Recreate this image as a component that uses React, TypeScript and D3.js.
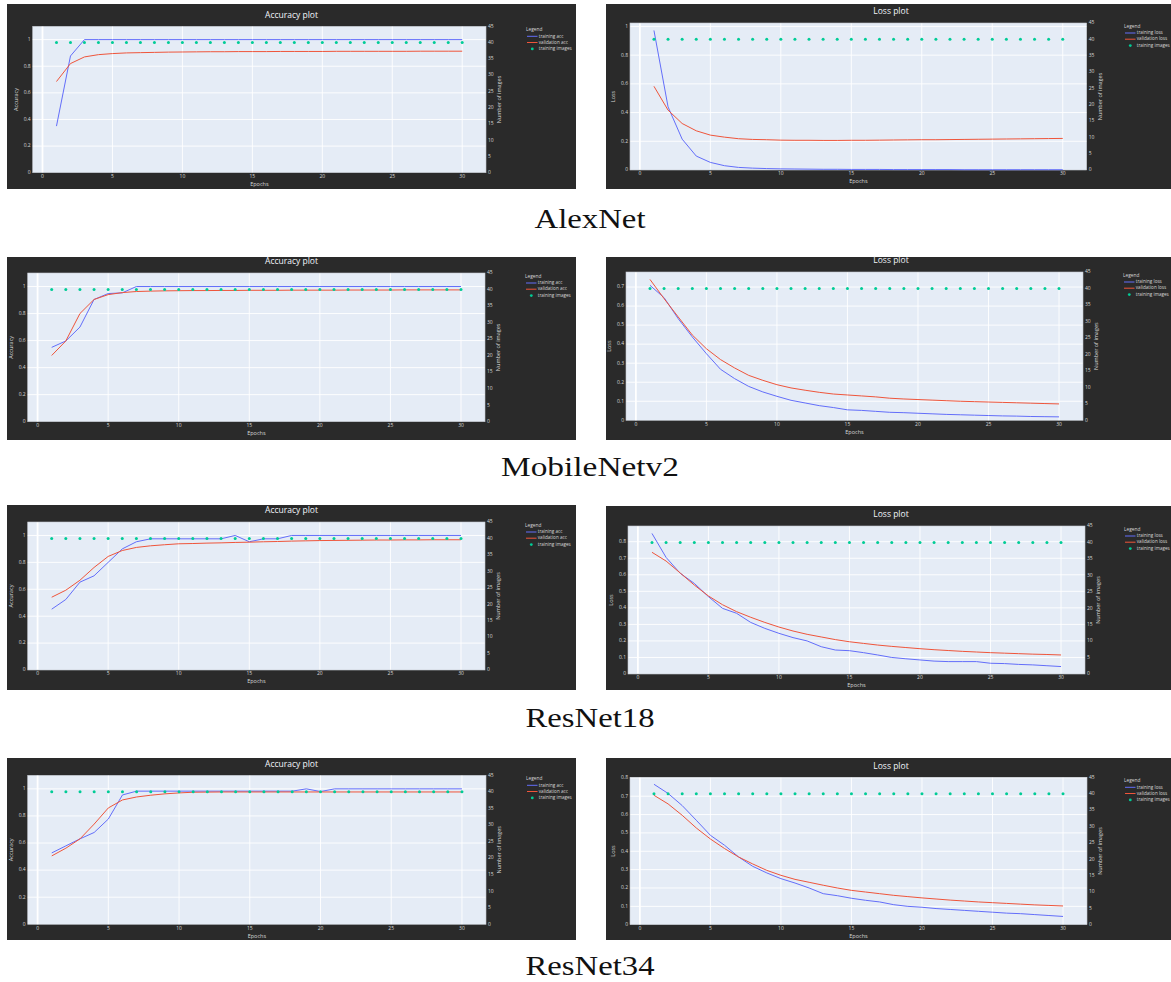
import React from "react";
import * as d3 from "d3";

// epochs and the constant training-image count
const epochs = [1, 2, 3, 4, 5, 6, 7, 8, 9, 10, 11, 12, 13, 14, 15, 16, 17, 18, 19, 20, 21, 22, 23, 24, 25, 26, 27, 28, 29, 30];
const trainingImages = [40, 40, 40, 40, 40, 40, 40, 40, 40, 40, 40, 40, 40, 40, 40, 40, 40, 40, 40, 40, 40, 40, 40, 40, 40, 40, 40, 40, 40, 40];

// AlexNet
const alexTrainAcc = [0.35, 0.877, 1, 1, 1, 1, 1, 1, 1, 1, 1, 1, 1, 1, 1, 1, 1, 1, 1, 1, 1, 1, 1, 1, 1, 1, 1, 1, 1, 1];
const alexValAcc = [0.685, 0.82, 0.87, 0.887, 0.895, 0.9, 0.902, 0.904, 0.906, 0.907, 0.908, 0.909, 0.909, 0.91, 0.91, 0.91, 0.911, 0.911, 0.911, 0.911, 0.912, 0.912, 0.912, 0.912, 0.912, 0.912, 0.913, 0.913, 0.913, 0.913];
const alexTrainLoss = [0.972, 0.44, 0.215, 0.097, 0.053, 0.03, 0.018, 0.013, 0.01, 0.008, 0.007, 0.006, 0.005, 0.005, 0.004, 0.004, 0.004, 0.003, 0.003, 0.003, 0.003, 0.003, 0.002, 0.002, 0.002, 0.002, 0.002, 0.002, 0.002, 0.002];
const alexValLoss = [0.583, 0.417, 0.324, 0.273, 0.243, 0.229, 0.218, 0.213, 0.211, 0.208, 0.207, 0.207, 0.206, 0.206, 0.207, 0.207, 0.208, 0.209, 0.21, 0.211, 0.211, 0.212, 0.213, 0.214, 0.215, 0.216, 0.217, 0.218, 0.219, 0.22];

// MobileNetv2
const mobileTrainAcc = [0.55, 0.597, 0.7, 0.904, 0.948, 0.953, 1, 1, 1, 1, 1, 1, 1, 1, 1, 1, 1, 1, 1, 1, 1, 1, 1, 1, 1, 1, 1, 1, 1, 1];
const mobileValAcc = [0.49, 0.597, 0.8, 0.904, 0.94, 0.955, 0.963, 0.966, 0.968, 0.969, 0.97, 0.97, 0.971, 0.971, 0.972, 0.972, 0.972, 0.973, 0.973, 0.973, 0.973, 0.974, 0.974, 0.974, 0.974, 0.975, 0.975, 0.975, 0.975, 0.975];
const mobileTrainLoss = [0.709, 0.644, 0.534, 0.438, 0.35, 0.268, 0.219, 0.178, 0.149, 0.126, 0.105, 0.091, 0.077, 0.067, 0.055, 0.052, 0.047, 0.042, 0.04, 0.037, 0.034, 0.031, 0.029, 0.027, 0.025, 0.023, 0.022, 0.02, 0.019, 0.018];
const mobileValLoss = [0.74, 0.639, 0.543, 0.448, 0.376, 0.319, 0.275, 0.236, 0.21, 0.187, 0.17, 0.158, 0.147, 0.138, 0.133, 0.128, 0.123, 0.116, 0.112, 0.109, 0.106, 0.103, 0.1, 0.098, 0.096, 0.094, 0.092, 0.09, 0.088, 0.086];

// ResNet18
const r18TrainAcc = [0.452, 0.524, 0.653, 0.7, 0.8, 0.9, 0.953, 0.975, 0.975, 0.975, 0.975, 0.975, 0.975, 1, 0.953, 0.975, 0.975, 1, 1, 1, 1, 1, 1, 1, 1, 1, 1, 1, 1, 1];
const r18ValAcc = [0.541, 0.593, 0.667, 0.762, 0.844, 0.888, 0.911, 0.923, 0.931, 0.938, 0.94, 0.943, 0.945, 0.948, 0.95, 0.953, 0.955, 0.958, 0.96, 0.962, 0.963, 0.964, 0.965, 0.966, 0.966, 0.967, 0.967, 0.968, 0.968, 0.968];
const r18TrainLoss = [0.85, 0.705, 0.609, 0.548, 0.468, 0.397, 0.367, 0.312, 0.276, 0.246, 0.22, 0.2, 0.165, 0.145, 0.141, 0.129, 0.115, 0.1, 0.092, 0.085, 0.078, 0.075, 0.075, 0.075, 0.065, 0.063, 0.058, 0.055, 0.05, 0.045];
const r18ValLoss = [0.736, 0.683, 0.611, 0.538, 0.472, 0.419, 0.377, 0.343, 0.312, 0.284, 0.26, 0.24, 0.224, 0.208, 0.195, 0.185, 0.175, 0.167, 0.16, 0.153, 0.147, 0.142, 0.137, 0.133, 0.129, 0.126, 0.123, 0.12, 0.118, 0.115];

// ResNet34
const r34TrainAcc = [0.527, 0.579, 0.631, 0.678, 0.777, 0.955, 0.983, 0.983, 0.983, 0.983, 0.983, 0.983, 0.983, 0.983, 0.983, 0.983, 0.983, 0.983, 1, 0.98, 1, 1, 1, 1, 1, 1, 1, 1, 1, 1];
const r34ValAcc = [0.505, 0.562, 0.631, 0.74, 0.859, 0.918, 0.94, 0.953, 0.963, 0.97, 0.975, 0.976, 0.977, 0.977, 0.977, 0.977, 0.977, 0.977, 0.977, 0.977, 0.977, 0.977, 0.977, 0.977, 0.977, 0.977, 0.977, 0.977, 0.977, 0.977];
const r34TrainLoss = [0.765, 0.715, 0.649, 0.569, 0.487, 0.433, 0.369, 0.318, 0.282, 0.251, 0.227, 0.2, 0.169, 0.158, 0.144, 0.133, 0.124, 0.109, 0.1, 0.095, 0.088, 0.083, 0.078, 0.073, 0.068, 0.063, 0.06, 0.055, 0.05, 0.045];
const r34ValLoss = [0.705, 0.658, 0.596, 0.527, 0.467, 0.415, 0.369, 0.331, 0.296, 0.269, 0.247, 0.231, 0.215, 0.2, 0.187, 0.178, 0.169, 0.16, 0.153, 0.146, 0.14, 0.134, 0.129, 0.124, 0.12, 0.116, 0.112, 0.108, 0.105, 0.102];

// ticks and axis ranges
const xTicks = [0, 5, 10, 15, 20, 25, 30];
const xRange = [-0.7, 31.7];
const imageTicks = [0, 5, 10, 15, 20, 25, 30, 35, 40, 45];
const imageRange = [0, 45];
const accTicks = [0, 0.2, 0.4, 0.6, 0.8, 1];
const alexLossTicks = [0, 0.2, 0.4, 0.6, 0.8, 1];
const mobileLossTicks = [0, 0.1, 0.2, 0.3, 0.4, 0.5, 0.6, 0.7];
const resnetLossTicks = [0, 0.1, 0.2, 0.3, 0.4, 0.5, 0.6, 0.7, 0.8];
const accNames = ["training acc", "validation acc", "training images"];
const lossNames = ["training loss", "validation loss", "training images"];
const modelNames = ["AlexNet", "MobileNetv2", "ResNet18", "ResNet34"];

const BLUE = "#636efa";
const RED = "#EF553B";
const TEAL = "#00cc96";
const PAPER = "#2a2a2a";
const PLOTBG = "#E5ECF6";
const FONT = "'Open Sans', Verdana, Arial, sans-serif";

type Spec = {
  title: string;
  yTitle: string;
  names: string[];
  train: number[];
  val: number[];
  ticks: number[];
  yMax: number;
};

type Box = { x: number; y: number; w: number; h: number; l: number; t: number; r: number; b: number };

// paper box + plot area for each panel (row by row, left then right)
const boxes: Box[] = [
  { x: 7, y: 4, w: 569, h: 185, l: 32.7, t: 26.3, r: 486, b: 172.7 },
  { x: 606, y: 4, w: 570, h: 185, l: 630, t: 23, r: 1086.7, b: 170 },
  { x: 7, y: 257, w: 569, h: 183, l: 27.7, t: 273, r: 485, b: 421.7 },
  { x: 606, y: 257, w: 570, h: 183, l: 626, t: 272, r: 1083, b: 420.3 },
  { x: 7, y: 505, w: 569, h: 185, l: 27.7, t: 522, r: 485, b: 670 },
  { x: 606, y: 506, w: 570, h: 184, l: 628, t: 526, r: 1085, b: 674 },
  { x: 7, y: 758, w: 569, h: 182, l: 27.7, t: 775.3, r: 486, b: 924.3 },
  { x: 606, y: 758, w: 570, h: 182, l: 630, t: 777.3, r: 1087, b: 924.7 },
];

const specs: Spec[] = [
  { title: "Accuracy plot", yTitle: "Accuracy", names: accNames, train: alexTrainAcc, val: alexValAcc, ticks: accTicks, yMax: 1.1 },
  { title: "Loss plot", yTitle: "Loss", names: lossNames, train: alexTrainLoss, val: alexValLoss, ticks: alexLossTicks, yMax: 1.024 },
  { title: "Accuracy plot", yTitle: "Accuracy", names: accNames, train: mobileTrainAcc, val: mobileValAcc, ticks: accTicks, yMax: 1.1 },
  { title: "Loss plot", yTitle: "Loss", names: lossNames, train: mobileTrainLoss, val: mobileValLoss, ticks: mobileLossTicks, yMax: 0.779 },
  { title: "Accuracy plot", yTitle: "Accuracy", names: accNames, train: r18TrainAcc, val: r18ValAcc, ticks: accTicks, yMax: 1.1 },
  { title: "Loss plot", yTitle: "Loss", names: lossNames, train: r18TrainLoss, val: r18ValLoss, ticks: resnetLossTicks, yMax: 0.895 },
  { title: "Accuracy plot", yTitle: "Accuracy", names: accNames, train: r34TrainAcc, val: r34ValAcc, ticks: accTicks, yMax: 1.1 },
  { title: "Loss plot", yTitle: "Loss", names: lossNames, train: r34TrainLoss, val: r34ValLoss, ticks: resnetLossTicks, yMax: 0.803 },
];

const captionY = [228, 476, 727, 975];
const captionWidth = [111, 178, 129, 129];

const fmt = (v: number) => String(+v.toFixed(2));

function Panel({ box, spec }: { box: Box; spec: Spec }) {
  const x = d3.scaleLinear().domain(xRange).range([box.l, box.r]);
  const y = d3.scaleLinear().domain([0, spec.yMax]).range([box.b, box.t]);
  const y2 = d3.scaleLinear().domain(imageRange).range([box.b, box.t]);
  const line = d3
    .line<number>()
    .x((_, i) => x(epochs[i]))
    .y((d) => y(d));
  const cy = (box.t + box.b) / 2;
  const lx = Math.min(box.r + 40, 1124);
  const tc = "#d8d8d8";

  return (
    <g fontFamily={FONT}>
      <rect x={box.x} y={box.y} width={box.w} height={box.h} fill={PAPER} />
      <rect x={box.l} y={box.t} width={box.r - box.l} height={box.b - box.t} fill={PLOTBG} />
      {/* grid */}
      {xTicks.filter((t) => t !== 0).map((t) => (
        <line key={"gx" + t} x1={x(t)} x2={x(t)} y1={box.t} y2={box.b} stroke="#fff" strokeWidth={0.9} />
      ))}
      {spec.ticks.filter((t) => t !== 0).map((t) => (
        <line key={"gy" + t} x1={box.l} x2={box.r} y1={y(t)} y2={y(t)} stroke="#fff" strokeWidth={0.9} />
      ))}
      <line x1={x(0)} x2={x(0)} y1={box.t} y2={box.b} stroke="#fff" strokeWidth={1.8} />
      <rect x={box.l} y={box.t} width={box.r - box.l} height={box.b - box.t} fill="none" stroke="#c4c8cf" strokeWidth={0.6} />

      {/* series */}
      <path d={line(spec.train) || ""} fill="none" stroke={BLUE} strokeWidth={1} />
      <path d={line(spec.val) || ""} fill="none" stroke={RED} strokeWidth={1} />
      {trainingImages.map((v, i) => (
        <circle key={"m" + i} cx={x(epochs[i])} cy={y2(v)} r={1.5} fill={TEAL} />
      ))}

      {/* tick labels */}
      {xTicks.map((t) => (
        <text key={"tx" + t} x={x(t)} y={box.b + 4} fontSize={5} fill={tc} textAnchor="middle" dominantBaseline="middle">
          {t}
        </text>
      ))}
      {spec.ticks.map((t) => (
        <text key={"ty" + t} x={box.l - 2} y={y(t)} fontSize={5} fill={tc} textAnchor="end" dominantBaseline="middle">
          {fmt(t)}
        </text>
      ))}
      {imageTicks.map((t) => (
        <text key={"ti" + t} x={box.r + 2} y={y2(t)} fontSize={5} fill={tc} textAnchor="start" dominantBaseline="middle">
          {t}
        </text>
      ))}

      {/* titles */}
      <text x={box.x + box.w / 2} y={box.t - 10.8} fontSize={8.5} fill="#f2f5fa" textAnchor="middle" dominantBaseline="middle">
        {spec.title}
      </text>
      <text x={(box.l + box.r) / 2} y={box.b + 12} fontSize={5.5} fill={tc} textAnchor="middle" dominantBaseline="middle">
        Epochs
      </text>
      <text
        transform={`translate(${box.l - 16.5},${cy}) rotate(-90)`}
        fontSize={5.5}
        fill={tc}
        textAnchor="middle"
        dominantBaseline="middle"
      >
        {spec.yTitle}
      </text>
      <text
        transform={`translate(${box.r + 13.8},${cy}) rotate(-90)`}
        fontSize={5.5}
        fill={tc}
        textAnchor="middle"
        dominantBaseline="middle"
      >
        Number of images
      </text>

      {/* legend */}
      <text x={lx} y={box.t + 3.6} fontSize={4.8} fill={tc} dominantBaseline="middle">
        Legend
      </text>
      <line x1={lx + 1} x2={lx + 11.5} y1={box.t + 10} y2={box.t + 10} stroke={BLUE} strokeWidth={1} />
      <text x={lx + 12.8} y={box.t + 10} fontSize={4.6} fill={tc} dominantBaseline="middle">
        {spec.names[0]}
      </text>
      <line x1={lx + 1} x2={lx + 11.5} y1={box.t + 16.2} y2={box.t + 16.2} stroke={RED} strokeWidth={1} />
      <text x={lx + 12.8} y={box.t + 16.2} fontSize={4.6} fill={tc} dominantBaseline="middle">
        {spec.names[1]}
      </text>
      <circle cx={lx + 6.3} cy={box.t + 22.6} r={1.4} fill={TEAL} />
      <text x={lx + 12.8} y={box.t + 22.6} fontSize={4.6} fill={tc} dominantBaseline="middle">
        {spec.names[2]}
      </text>
    </g>
  );
}

export default function App() {
  return (
    <svg
      width={1171}
      height={982}
      style={{ position: "absolute", left: 0, top: 0, background: "#fff" }}
    >
      {boxes.map((b, i) => (
        <Panel key={i} box={b} spec={specs[i]} />
      ))}
      {modelNames.map((m, i) => (
        <text
          key={m}
          x={590}
          y={captionY[i]}
          fontFamily="'Liberation Serif', 'DejaVu Serif', serif"
          fontSize={28}
          fill="#111"
          textAnchor="middle"
          textLength={captionWidth[i]}
          lengthAdjust="spacingAndGlyphs"
        >
          {m}
        </text>
      ))}
    </svg>
  );
}
